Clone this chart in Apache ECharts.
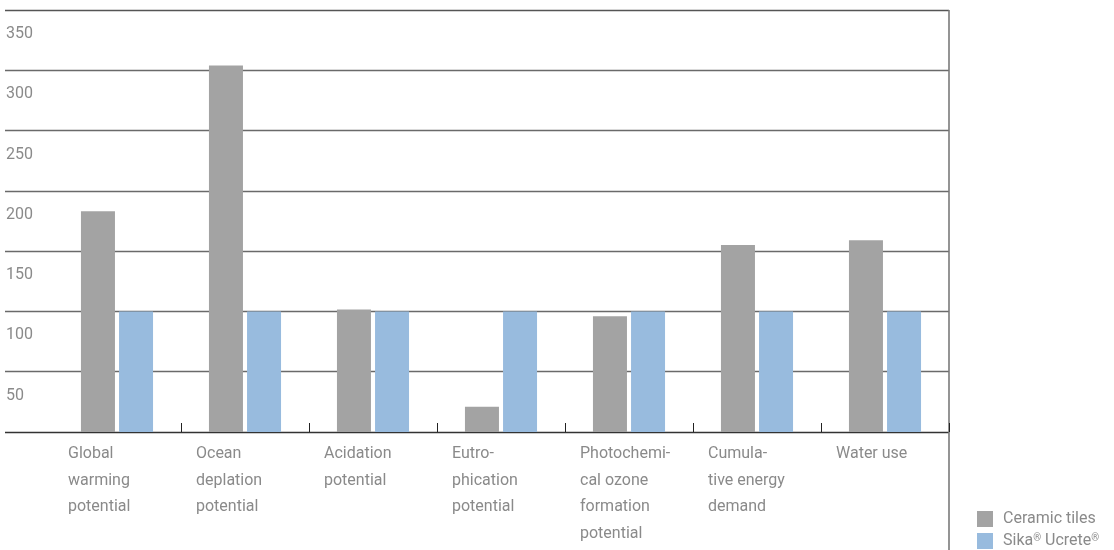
<!DOCTYPE html>
<html>
<head>
<meta charset="utf-8">
<script src="https://cdn.jsdelivr.net/npm/echarts@6/dist/echarts.min.js"></script>
<style>
html,body{margin:0;padding:0;background:#fff;}
#main{width:1114px;height:550px;}
</style>
</head>
<body>
<div id="main"></div>
<script>
var categories = [
  "Global\nwarming\npotential",
  "Ocean\ndeplation\npotential",
  "Acidation\npotential",
  "Eutro-\nphication\npotential",
  "Photochemi-\ncal ozone\nformation\npotential",
  "Cumula-\ntive energy\ndemand",
  "Water use"
];
var seriesNames = ["Ceramic tiles", "Sika\u00AE Ucrete\u00AE"];
var ceramicTiles = [183, 304, 101.5, 21, 96, 155, 159];
var sikaUcrete = [100, 100, 100, 100, 100, 100, 100];
var yTicks = [0, 50, 100, 150, 200, 250, 300, 350];

var FONT = 'Roboto, "DejaVu Sans", sans-serif';
var TXT = '#8a8a8a';
var chart = echarts.init(document.getElementById('main'));
var labelCats = categories.concat(['']);

chart.setOption({
  animation: false,
  backgroundColor: '#fff',
  grid: [
    {left: 5, right: 165, top: 10, bottom: 118},
    {left: 53, right: 165, top: 10, bottom: 118}
  ],
  legend: {
    orient: 'vertical',
    left: 972,
    top: 506,
    height: 80,
    itemWidth: 16,
    itemHeight: 16,
    itemGap: 6,
    icon: 'rect',
    formatter: function (name) {
      return name.split('\u00AE').join('{sup|\u00AE}');
    },
    textStyle: {
      color: TXT, fontFamily: FONT, fontSize: 16, padding: [0,0,0,5],
      rich: {
        sup: {color: TXT, fontFamily: FONT, fontSize: 10, verticalAlign: 'top', padding: [0, 0, 6, 0]}
      }
    },
    data: seriesNames
  },
  xAxis: [
    {gridIndex: 0, type: 'value', show: false, min: 0, max: 1},
    {
      gridIndex: 1, type: 'category', data: categories, position: 'bottom',
      axisLine: {show: false},
      axisTick: {show: true, inside: true, length: 9, lineStyle: {color: '#222', width: 1},
                 interval: function (i) { return i !== 0; }},
      axisLabel: {show: false}
    },
    {
      gridIndex: 1, type: 'category', data: labelCats, position: 'bottom', boundaryGap: false,
      axisLine: {show: false}, axisTick: {show: false},
      axisLabel: {
        show: true, interval: 0, align: 'left', verticalAlign: 'top', margin: 9,
        color: TXT, fontFamily: FONT, fontSize: 16, lineHeight: 26.5,
        padding: [0, 0, 0, 15]
      }
    }
  ],
  yAxis: [
    {
      gridIndex: 0, type: 'value', min: 0, max: 350, interval: 50,
      axisLine: {show: false}, axisTick: {show: false},
      splitLine: {show: true, lineStyle: {color: ['#333', '#6a6a6a', '#6a6a6a', '#6a6a6a', '#6a6a6a', '#6a6a6a', '#6a6a6a', '#555'], width: 1.3}},
      axisLabel: {
        inside: true, margin: 1, verticalAlign: 'top', align: 'left',
        color: TXT, fontFamily: FONT, fontSize: 16, lineHeight: 20,
        padding: [14, 0, 0, 0],
        formatter: function (v) { return (v === 0 || yTicks.indexOf(v) < 0) ? '' : String(v); }
      }
    },
    {gridIndex: 1, type: 'value', min: 0, max: 350, interval: 50, show: false, splitLine: {show: false}}
  ],
  series: [
    {
      name: seriesNames[0], type: 'bar', xAxisIndex: 1, yAxisIndex: 1,
      data: ceramicTiles, barWidth: 34, barGap: '12%',
      itemStyle: {color: '#a3a3a3'}
    },
    {
      name: seriesNames[1], type: 'bar', xAxisIndex: 1, yAxisIndex: 1,
      data: sikaUcrete, barWidth: 34, barGap: '12%',
      itemStyle: {color: '#98bbde'}
    }
  ]
});

var topLeft = chart.convertToPixel({gridIndex: 1}, [6, 350]);
var gridRight = 1114 - 165;
chart.setOption({
  graphic: [{
    type: 'line', silent: true,
    shape: {x1: gridRight, y1: topLeft[1], x2: gridRight, y2: 550},
    style: {stroke: '#7a7a7a', lineWidth: 1.6}
  }]
});
</script>
</body>
</html>
